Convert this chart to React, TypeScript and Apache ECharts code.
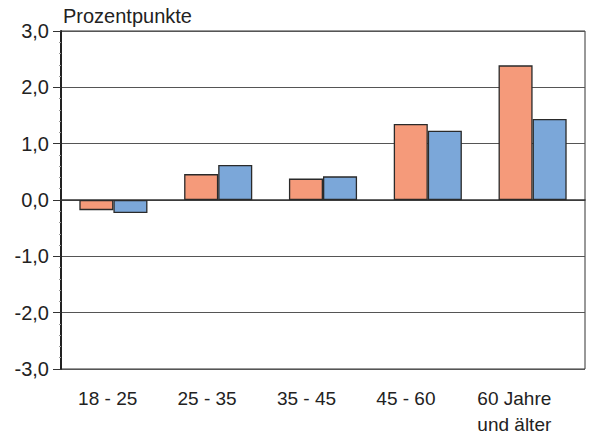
import React, { useEffect, useRef } from "react";
import * as echarts from "echarts";

const categories = ["18 - 25", "25 - 35", "35 - 45", "45 - 60", "60 Jahre\nund älter"];
const seriesA = [-0.18, 0.46, 0.38, 1.35, 2.39];
const seriesB = [-0.23, 0.62, 0.42, 1.23, 1.44];
const yTicks = [-3, -2, -1, 0, 1, 2, 3];
const unitLabel = "Prozentpunkte";

const FONT = "'Liberation Sans', Arial, sans-serif";

export default function App() {
  const ref = useRef<HTMLDivElement>(null);
  useEffect(() => {
    if (!ref.current) return;
    const chart = echarts.init(ref.current, undefined, { renderer: "svg" });
    chart.setOption({
      animation: false,
      backgroundColor: "#ffffff",
      textStyle: { fontFamily: FONT },
      title: {
        text: unitLabel,
        left: 58,
        top: 1,
        textStyle: { fontFamily: FONT, fontSize: 20, fontWeight: "normal", color: "#222" },
      },
      grid: [
        { left: 61, right: 11, top: 31, bottom: 68, show: true, borderColor: "#333", borderWidth: 1, containLabel: false },
        { left: 58, width: 497, top: 31, bottom: 68, show: false },
      ],
      xAxis: [
        {
          type: "category",
          gridIndex: 0,
          data: categories,
          axisLine: { show: true, lineStyle: { color: "#333", width: 1.5 } },
          axisTick: { show: false },
          axisLabel: { show: false },
          splitLine: { show: false },
        },
        {
          type: "category",
          gridIndex: 1,
          data: categories,
          axisLine: { show: false },
          axisTick: { show: false },
          axisLabel: {
            show: true,
            interval: 0,
            hideOverlap: false,
            margin: 20,
            fontSize: 19,
            lineHeight: 26,
            color: "#222",
            fontFamily: FONT,
            formatter: (v: string, i: number) =>
              i === categories.length - 1
                ? v.split("\n").map((s) => `{s|${s}}`).join("\n")
                : v,
            rich: {
              s: { fontSize: 19, lineHeight: 26, color: "#222", fontFamily: FONT, padding: [0, 0, 0, 18] },
            },
          },
        },
      ],
      yAxis: [
        {
          type: "value",
          gridIndex: 0,
          min: yTicks[0],
          max: yTicks[yTicks.length - 1],
          interval: 1,
          axisLine: { show: true, lineStyle: { color: "#222", width: 2 } },
          axisTick: { show: true, length: 8, lineStyle: { color: "#333", width: 1 } },
          minorTick: { show: true, splitNumber: 5, length: 2, lineStyle: { color: "#999" } },
          axisLabel: {
            margin: 12,
            fontSize: 20,
            color: "#222",
            fontFamily: FONT,
            formatter: (v: number) => v.toFixed(1).replace(".", ","),
          },
          splitLine: { show: true, lineStyle: { color: "#555", width: 1 } },
        },
        {
          type: "value",
          gridIndex: 1,
          min: yTicks[0],
          max: yTicks[yTicks.length - 1],
          show: false,
        },
      ],
      series: [
        {
          type: "bar",
          data: seriesA,
          xAxisIndex: 0,
          yAxisIndex: 0,
          barGap: "0%",
          barCategoryGap: "35%",
          itemStyle: { color: "#F59A7A", borderColor: "#2a2a2a", borderWidth: 1.3 },
        },
        {
          type: "bar",
          data: seriesB,
          xAxisIndex: 0,
          yAxisIndex: 0,
          barGap: "0%",
          barCategoryGap: "35%",
          itemStyle: { color: "#7BA7D9", borderColor: "#2a2a2a", borderWidth: 1.3 },
        },
      ],
    });
    return () => chart.dispose();
  }, []);
  return <div ref={ref} style={{ width: 596, height: 437, position: "absolute", left: 0, top: 0 }} />;
}
